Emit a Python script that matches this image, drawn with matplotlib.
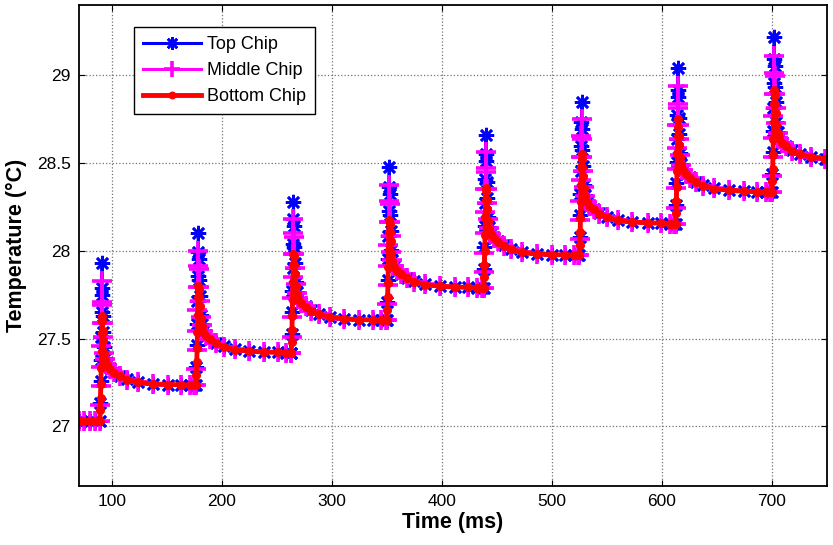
import matplotlib
matplotlib.use("Agg")
import matplotlib.pyplot as plt
from matplotlib.ticker import FormatStrFormatter

plt.rcParams['font.family'] = ['Liberation Sans', 'DejaVu Sans']

# sample times (ms), same for all three chips
time_ms = [
    70, 75, 80, 85,
    89, 89.3, 89.6, 89.9, 90.2, 90.5, 90.8, 91, 91.3, 91.7, 92.2, 93, 94, 95.5, 98, 102, 107, 114, 124, 137, 151, 163, 171, 175,
    176.5, 176.8, 177.1, 177.4, 177.7, 178, 178.3, 178.5, 178.8, 179.2, 179.7, 180.5, 181.5, 183, 185.5, 189.5, 194.5, 201.5, 211.5, 224.5, 238.5, 250.5, 258.5, 262.5,
    263, 263.3, 263.6, 263.9, 264.2, 264.5, 264.8, 265, 265.3, 265.7, 266.2, 267, 268, 269.5, 272, 276, 281, 288, 298, 311, 325, 337, 345, 349,
    350, 350.3, 350.6, 350.9, 351.2, 351.5, 351.8, 352, 352.3, 352.7, 353.2, 354, 355, 356.5, 359, 363, 368, 375, 385, 398, 412, 424, 432, 436,
    438, 438.3, 438.6, 438.9, 439.2, 439.5, 439.8, 440, 440.3, 440.7, 441.2, 442, 443, 444.5, 447, 451, 456, 463, 473, 486, 500, 512, 520, 524,
    525, 525.3, 525.6, 525.9, 526.2, 526.5, 526.8, 527, 527.3, 527.7, 528.2, 529, 530, 531.5, 534, 538, 543, 550, 560, 573, 587, 599, 607, 611,
    612.5, 612.8, 613.1, 613.4, 613.7, 614, 614.3, 614.5, 614.8, 615.2, 615.7, 616.5, 617.5, 619, 621.5, 625.5, 630.5, 637.5, 647.5, 660.5, 674.5, 686.5, 694.5, 698.5,
    700, 700.3, 700.6, 700.9, 701.2, 701.5, 701.8, 702, 702.3, 702.7, 703.2, 704, 705, 706.5, 709, 713, 718, 725, 735, 748, 750,
]

top_chip = [
    27.03, 27.03, 27.03, 27.03,
    27.030, 27.135, 27.260, 27.380, 27.510, 27.650, 27.790, 27.930, 27.750, 27.630, 27.540, 27.450, 27.390, 27.355, 27.330, 27.310, 27.288, 27.268, 27.252, 27.242, 27.238, 27.236, 27.235, 27.235,
    27.235, 27.340, 27.465, 27.585, 27.715, 27.855, 27.995, 28.100, 27.955, 27.835, 27.745, 27.635, 27.580, 27.545, 27.520, 27.500, 27.475, 27.455, 27.438, 27.428, 27.423, 27.421, 27.420, 27.420,
    27.420, 27.525, 27.650, 27.770, 27.900, 28.040, 28.180, 28.280, 28.140, 28.020, 27.930, 27.820, 27.765, 27.730, 27.705, 27.685, 27.660, 27.640, 27.623, 27.613, 27.608, 27.606, 27.605, 27.605,
    27.605, 27.710, 27.835, 27.955, 28.085, 28.225, 28.365, 28.475, 28.325, 28.205, 28.115, 28.005, 27.950, 27.915, 27.890, 27.870, 27.845, 27.825, 27.808, 27.798, 27.793, 27.791, 27.790, 27.790,
    27.790, 27.895, 28.020, 28.140, 28.270, 28.410, 28.550, 28.660, 28.510, 28.390, 28.300, 28.190, 28.135, 28.100, 28.075, 28.055, 28.030, 28.010, 27.993, 27.983, 27.978, 27.976, 27.975, 27.975,
    27.975, 28.080, 28.205, 28.325, 28.455, 28.595, 28.735, 28.850, 28.695, 28.575, 28.485, 28.375, 28.315, 28.280, 28.258, 28.238, 28.213, 28.193, 28.175, 28.165, 28.159, 28.157, 28.155, 28.155,
    28.155, 28.260, 28.385, 28.505, 28.635, 28.775, 28.915, 29.040, 28.875, 28.755, 28.665, 28.555, 28.495, 28.460, 28.438, 28.418, 28.393, 28.373, 28.355, 28.345, 28.339, 28.337, 28.335, 28.335,
    28.335, 28.440, 28.565, 28.685, 28.815, 28.955, 29.095, 29.215, 29.055, 28.935, 28.845, 28.735, 28.675, 28.640, 28.618, 28.598, 28.573, 28.553, 28.535, 28.525, 28.523,
]

middle_chip = [
    27.03, 27.03, 27.03, 27.03,
    27.030, 27.120, 27.230, 27.340, 27.460, 27.590, 27.710, 27.830, 27.690, 27.590, 27.510, 27.420, 27.385, 27.352, 27.328, 27.308, 27.286, 27.266, 27.252, 27.242, 27.238, 27.236, 27.235, 27.235,
    27.235, 27.325, 27.435, 27.545, 27.665, 27.795, 27.915, 28.000, 27.895, 27.795, 27.715, 27.625, 27.575, 27.543, 27.518, 27.498, 27.473, 27.453, 27.438, 27.428, 27.423, 27.421, 27.420, 27.420,
    27.420, 27.510, 27.620, 27.730, 27.850, 27.980, 28.100, 28.180, 28.080, 27.980, 27.900, 27.810, 27.760, 27.728, 27.703, 27.683, 27.658, 27.638, 27.623, 27.613, 27.608, 27.606, 27.605, 27.605,
    27.605, 27.695, 27.805, 27.915, 28.035, 28.165, 28.285, 28.375, 28.265, 28.165, 28.085, 27.995, 27.945, 27.913, 27.888, 27.868, 27.843, 27.823, 27.808, 27.798, 27.793, 27.791, 27.790, 27.790,
    27.790, 27.880, 27.990, 28.100, 28.220, 28.350, 28.470, 28.560, 28.450, 28.350, 28.270, 28.180, 28.130, 28.098, 28.073, 28.053, 28.028, 28.008, 27.993, 27.983, 27.978, 27.976, 27.975, 27.975,
    27.975, 28.065, 28.175, 28.285, 28.405, 28.535, 28.655, 28.750, 28.635, 28.535, 28.455, 28.365, 28.310, 28.278, 28.256, 28.236, 28.211, 28.191, 28.175, 28.165, 28.159, 28.157, 28.155, 28.155,
    28.155, 28.245, 28.355, 28.465, 28.585, 28.715, 28.835, 28.940, 28.815, 28.715, 28.635, 28.545, 28.490, 28.458, 28.436, 28.416, 28.391, 28.371, 28.355, 28.345, 28.339, 28.337, 28.335, 28.335,
    28.335, 28.425, 28.535, 28.645, 28.765, 28.895, 29.015, 29.110, 28.995, 28.895, 28.815, 28.725, 28.670, 28.638, 28.616, 28.596, 28.571, 28.551, 28.535, 28.525, 28.523,
]

bottom_chip = [
    27.03, 27.03, 27.03, 27.03,
    27.030, 27.090, 27.160, 27.240, 27.330, 27.430, 27.530, 27.630, 27.600, 27.545, 27.490, 27.420, 27.380, 27.350, 27.326, 27.306, 27.285, 27.265, 27.251, 27.242, 27.238, 27.236, 27.235, 27.235,
    27.235, 27.295, 27.365, 27.445, 27.535, 27.635, 27.735, 27.800, 27.785, 27.735, 27.685, 27.615, 27.570, 27.540, 27.516, 27.496, 27.472, 27.453, 27.437, 27.428, 27.423, 27.421, 27.420, 27.420,
    27.420, 27.480, 27.550, 27.630, 27.720, 27.820, 27.920, 27.980, 27.970, 27.920, 27.870, 27.800, 27.755, 27.725, 27.701, 27.681, 27.657, 27.638, 27.622, 27.613, 27.608, 27.606, 27.605, 27.605,
    27.605, 27.665, 27.735, 27.815, 27.905, 28.005, 28.105, 28.175, 28.155, 28.105, 28.055, 27.985, 27.940, 27.910, 27.886, 27.866, 27.842, 27.823, 27.807, 27.798, 27.793, 27.791, 27.790, 27.790,
    27.790, 27.850, 27.920, 28.000, 28.090, 28.190, 28.290, 28.360, 28.340, 28.290, 28.240, 28.170, 28.125, 28.095, 28.071, 28.051, 28.027, 28.008, 27.992, 27.983, 27.978, 27.976, 27.975, 27.975,
    27.975, 28.035, 28.105, 28.185, 28.275, 28.375, 28.475, 28.550, 28.525, 28.475, 28.425, 28.355, 28.310, 28.280, 28.256, 28.236, 28.211, 28.191, 28.174, 28.165, 28.159, 28.157, 28.155, 28.155,
    28.155, 28.215, 28.285, 28.365, 28.455, 28.555, 28.655, 28.750, 28.705, 28.655, 28.605, 28.535, 28.490, 28.460, 28.436, 28.416, 28.391, 28.371, 28.354, 28.345, 28.339, 28.337, 28.335, 28.335,
    28.335, 28.395, 28.465, 28.545, 28.635, 28.735, 28.835, 28.915, 28.885, 28.835, 28.785, 28.715, 28.670, 28.640, 28.616, 28.596, 28.571, 28.551, 28.534, 28.525, 28.523,
]

x_ticks = [100, 200, 300, 400, 500, 600, 700]
y_ticks = [27, 27.5, 28, 28.5, 29]

fig = plt.figure(figsize=(8.33, 5.45), dpi=100)
ax = fig.add_axes([0.0948, 0.1083, 0.898, 0.8825])

asterisk = (8, 2, 0)
ax.plot(time_ms, top_chip, color='#0000ff', lw=2.2, marker=asterisk,
        ms=11, mew=1.9, label='Top Chip')
ax.plot(time_ms, middle_chip, color='#ff00ff', lw=2.2, marker='+',
        ms=14, mew=2.6, label='Middle Chip')
ax.plot(time_ms, bottom_chip, color='#ff0000', lw=3.5, marker='.',
        ms=11, label='Bottom Chip')

ax.set_xlim(70, 750)
ax.set_ylim(26.66, 29.4)
ax.set_xticks(x_ticks)
ax.set_yticks(y_ticks)
ax.yaxis.set_major_formatter(FormatStrFormatter('%g'))
ax.tick_params(direction='in', top=True, right=True, length=4, width=0.8,
               labelsize=12.5, pad=6)
ax.grid(True, linestyle=':', color='0.45', linewidth=0.9)
for s in ax.spines.values():
    s.set_linewidth(1.3)

ax.set_xlabel('Time (ms)', fontsize=15.5, fontweight='bold', labelpad=2)
ax.set_ylabel('Temperature (\u00b0C)', fontsize=15.5, fontweight='bold', labelpad=7)

leg = ax.legend(loc='upper left', bbox_to_anchor=(0.0735, 0.954), borderaxespad=0,
                fontsize=13, fancybox=False, framealpha=1, edgecolor='black',
                handlelength=3.2, handletextpad=0.35, labelspacing=0.5,
                borderpad=0.5, markerscale=0.85)
leg.get_frame().set_linewidth(1.0)

fig.savefig('out.png', dpi=100)
